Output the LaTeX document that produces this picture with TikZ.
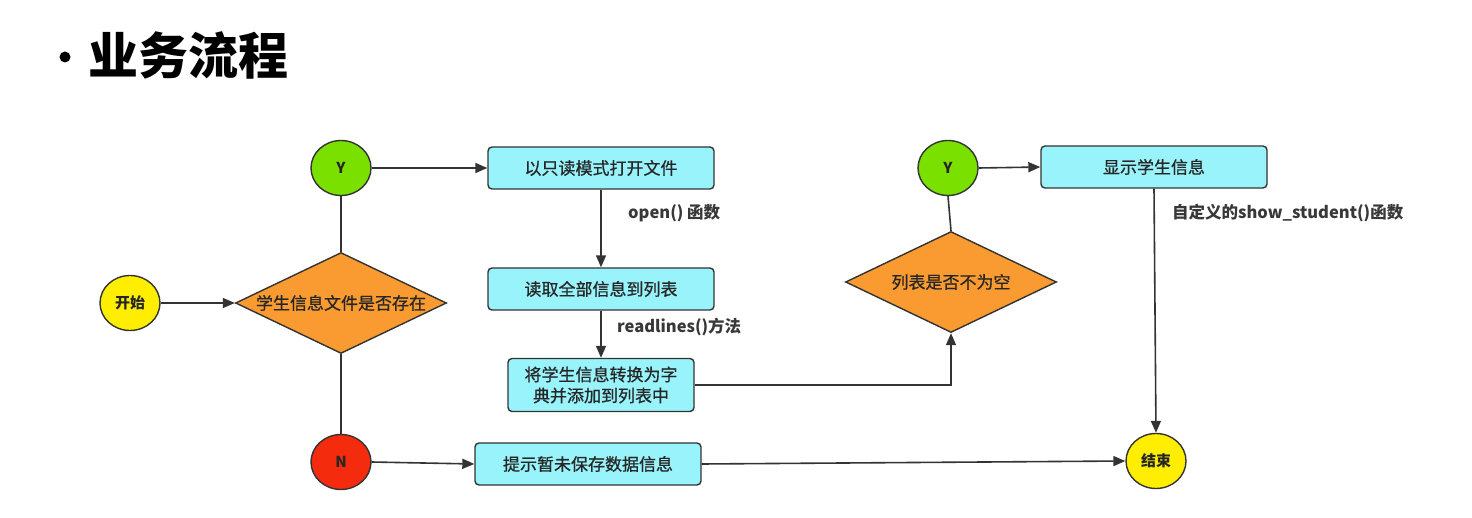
\documentclass[tikz,border=0pt]{standalone}
\usepackage{fontspec}
\setmainfont{Noto Sans CJK SC}
\newfontfamily\cjkmedium{Noto Sans CJK SC}[FakeBold=0.7]
\usetikzlibrary{shapes.geometric,arrows.meta}
\definecolor{boxfill}{HTML}{99F3FB}
\definecolor{decfill}{HTML}{F99B30}
\definecolor{yesfill}{HTML}{7AE000}
\definecolor{nofill}{HTML}{F52B0E}
\definecolor{termfill}{HTML}{FFEE00}
\definecolor{edge}{HTML}{333333}
\begin{document}
\begin{tikzpicture}[x=1pt,y=-1pt,
  every node/.style={text=black!85},
  procbox/.style={draw=edge,line width=1.4pt,fill=boxfill,rounded corners=4pt,
    minimum width=226pt,minimum height=42pt,inner sep=0pt,font=\fontsize{17}{21}\selectfont\cjkmedium},
  decision/.style={draw=edge,line width=1.4pt,fill=decfill,shape=diamond,aspect=2.09,
    minimum width=211pt,minimum height=101pt,inner sep=0pt,font=\fontsize{17}{21}\selectfont\cjkmedium},
  roundel/.style={draw=edge,line width=1.4pt,shape=ellipse,minimum width=60pt,
    minimum height=55pt,inner sep=0pt,font=\fontsize{15}{18}\selectfont\bfseries},
  note/.style={anchor=west,inner sep=0pt,text=black!78,font=\fontsize{16.5}{20}\selectfont\bfseries},
  link/.style={draw=edge,line width=1.6pt},
  flow/.style={link,-{Triangle[length=12pt,width=10pt]}}]
  \fill[white] (0,0) rectangle (1472,518);

  % heading
  \fill[black] (65,57) circle (5.5pt);
  \node[anchor=west,inner sep=0pt,text=black,font=\fontsize{50}{56}\selectfont\bfseries]
    (title) at (88,55) {业务流程};

  % nodes
  \node[roundel,fill=termfill] (start) at (130,303) {开始};
  \node[decision] (exists) at (341,303) {学生信息文件是否存在};
  \node[roundel,fill=yesfill] (yes1) at (341,168) {Y};
  \node[roundel,fill=nofill] (no1) at (341,462) {N};
  \node[procbox] (open) at (601,168) {以只读模式打开文件};
  \node[procbox] (readall) at (601,289) {读取全部信息到列表};
  \node[procbox,minimum width=186pt,minimum height=53pt,align=center] (convert) at (601,385)
    {将学生信息转换为字\\典并添加到列表中};
  \node[procbox] (nodata) at (588,464) {提示暂未保存数据信息};
  \node[decision] (notempty) at (951,282) {列表是否不为空};
  \node[roundel,fill=yesfill] (yes2) at (948,168) {Y};
  \node[procbox] (show) at (1154,167) {显示学生信息};
  \node[roundel,fill=termfill] (finish) at (1156,461) {结束};

  % edge labels
  \node[note] (lopen) at (628,213) {open() 函数};
  \node[note] (lread) at (617,327) {readlines()方法};
  \node[note] (lshow) at (1172,213) {自定义的show\_student()函数};

  % connectors
  \draw[flow] (start) -- (exists.west);
  \draw[link] (exists.north) -- (yes1.south);
  \draw[link] (exists.south) -- (no1.north);
  \draw[flow] (yes1.east) -- (open.west);
  \draw[flow] (open.south) -- (readall.north);
  \draw[flow] (readall.south) -- (convert.north);
  \draw[flow] (convert.east) -| (notempty.south);
  \draw[link] (notempty.north) -- (yes2.south);
  \draw[flow] (yes2.east) -- (show.west);
  \draw[flow] (show.south) -- (finish.north);
  \draw[flow] (no1.east) -- (nodata.west);
  \draw[flow] (nodata.east) -- (finish.west);
\end{tikzpicture}
\end{document}
